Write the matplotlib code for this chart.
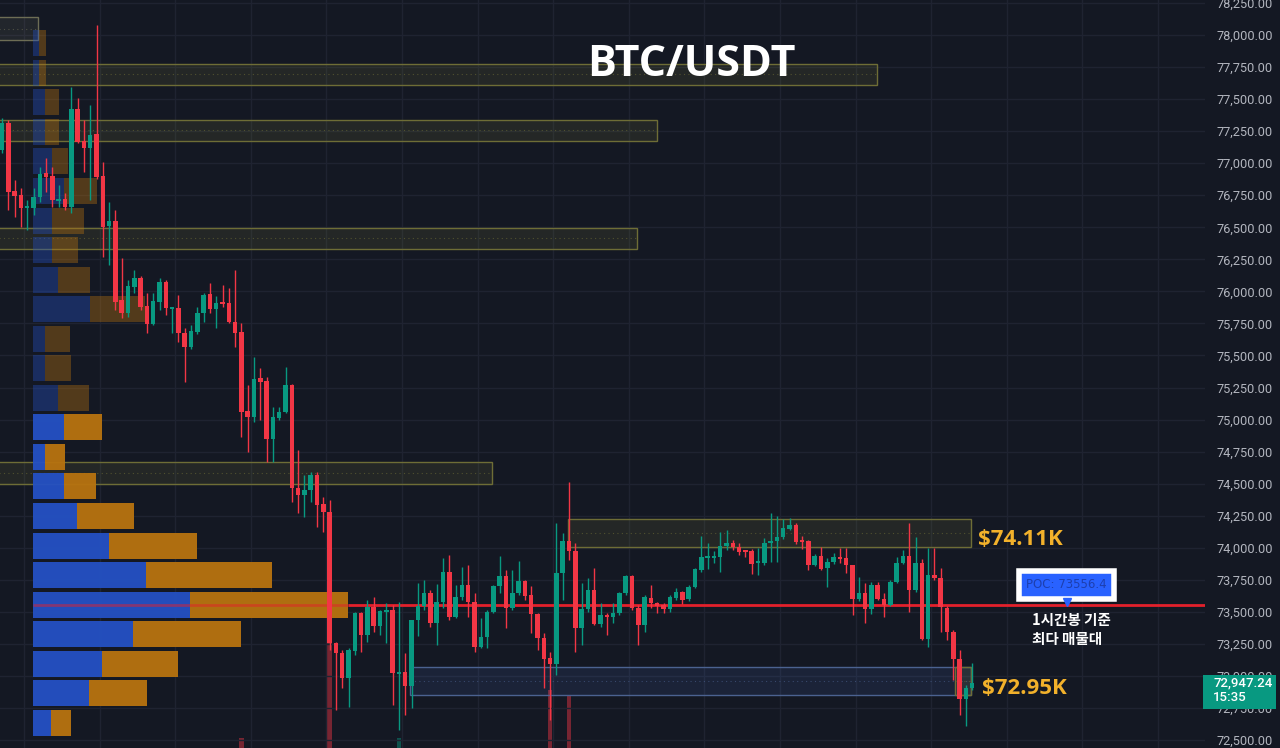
import matplotlib.pyplot as plt
import matplotlib.transforms as mtransforms
from matplotlib.patches import Rectangle

# ---- candle data (1h, BTC/USDT) ----
opens = [77103, 77314, 76783, 76752, 76651, 76651, 76736, 76924, 76900, 76705,
         76721, 76658, 77423, 77173, 77119, 77228, 76900, 76510, 76549, 75933,
         75832, 76034, 76105, 75886, 75746, 75917, 76073, 75863, 75871, 75676,
         75566, 75683, 75832, 75980, 75863, 75909, 75909, 75761, 75683, 75067,
         75020, 75325, 75301, 74849, 75013, 75060, 75270, 74467, 74412, 74451,
         74568, 74342, 74279, 73258, 73180, 72985, 73195, 73492, 73320, 73538,
         73390, 73499, 73515, 73016, 73031, 72922, 73437, 73546, 73648, 73414,
         73577, 73811, 73460, 73616, 73710, 73577, 73226, 73304, 73499, 73702,
         73780, 73531, 73648, 73741, 73632, 73484, 73297, 73141, 73094, 73804,
         74053, 73975, 73375, 73523, 73671, 73406, 73476, 73460, 73492, 73648,
         73780, 73531, 73398, 73609, 73570, 73554, 73523, 73609, 73656, 73601,
         73695, 73827, 73921, 73921, 73928, 74014, 74038, 74006, 73983, 73975,
         73882, 73882, 74038, 74053, 74085, 74147, 74178, 74053, 74053, 73866,
         73936, 73843, 73889, 73928, 73921, 73866, 73601, 73648, 73523, 73710,
         73601, 73554, 73733, 73882, 73936, 73671, 73882, 73289, 73788, 73765,
         73531, 73344, 73133, 72821, 72907]
highs = [77353, 77337, 76869, 76807, 76713, 76807, 76970, 77041, 76970, 76830,
         76768, 77594, 77509, 77337, 77454, 78078, 77009, 76697, 76635, 76261,
         76089, 76167, 76120, 75988, 75988, 76105, 76089, 75878, 75972, 75715,
         75738, 75878, 75988, 76066, 75964, 76050, 76027, 76167, 75754, 75270,
         75488, 75403, 75332, 75098, 75098, 75410, 75280, 74763, 74568, 74591,
         74591, 74396, 74373, 73265, 73203, 73219, 73499, 73499, 73593, 73616,
         73515, 73570, 73554, 73577, 73180, 73437, 73726, 73749, 73671, 73718,
         73921, 73944, 73710, 73850, 73866, 73648, 73453, 73515, 73710, 73936,
         73827, 73827, 73897, 73749, 73702, 73492, 73336, 73188, 74194, 74116,
         74513, 74038, 73726, 73765, 73843, 73570, 73492, 73570, 73656, 73788,
         73788, 73554, 73632, 73710, 73577, 73570, 73632, 73687, 73663, 73710,
         73843, 74092, 74038, 73975, 74123, 74139, 74061, 74038, 73983, 73991,
         73999, 74077, 74272, 74248, 74225, 74233, 74194, 74092, 74061, 73952,
         74006, 73921, 73960, 73999, 73999, 73866, 73773, 73726, 73733, 73733,
         73648, 73749, 73928, 73983, 74194, 74085, 73913, 73999, 73999, 73843,
         73546, 73359, 73203, 72930, 73101]
lows = [77080, 76635, 76580, 76502, 76479, 76596, 76697, 76775, 76658, 76658,
        76635, 76612, 77158, 76931, 76713, 76880, 76269, 76206, 75855, 75793,
        75800, 75988, 75855, 75676, 75738, 75855, 75816, 75676, 75605, 75293,
        75551, 75668, 75761, 75832, 75715, 75878, 75754, 75566, 74864, 74747,
        74981, 74997, 74669, 74669, 74997, 75052, 74357, 74272, 74240, 74357,
        74162, 74123, 73203, 72735, 72907, 72758, 73164, 73188, 73265, 73344,
        73320, 73258, 72774, 72579, 72696, 72751, 73312, 73515, 73382, 73242,
        73531, 73437, 73453, 73593, 73460, 73188, 73219, 73219, 73492, 73648,
        73375, 73515, 73632, 73593, 73336, 73203, 72907, 72657, 73008, 73593,
        73905, 73188, 73242, 73499, 73398, 73382, 73320, 73414, 73476, 73632,
        73515, 73242, 73344, 73531, 73492, 73492, 73499, 73593, 73562, 73585,
        73687, 73811, 73835, 73882, 73811, 73983, 73983, 73944, 73928, 73796,
        73788, 73866, 73889, 73889, 74069, 74139, 74030, 73991, 73827, 73858,
        73827, 73695, 73874, 73882, 73804, 73476, 73585, 73414, 73484, 73593,
        73460, 73546, 73726, 73874, 73499, 73656, 73281, 73226, 73749, 73344,
        73281, 72969, 72696, 72610, 72891]
closes = [77314, 76775, 76744, 76651, 76667, 76736, 76916, 76892, 76713, 76721,
          76658, 77423, 77165, 77119, 77220, 76892, 76502, 76549, 75917, 75832,
          76042, 76105, 75878, 75746, 75925, 76073, 75871, 75878, 75676, 75566,
          75691, 75832, 75972, 75863, 75909, 75902, 75761, 75676, 75060, 75020,
          75317, 75293, 74849, 75020, 75060, 75270, 74467, 74412, 74451, 74568,
          74334, 74279, 73258, 73180, 72985, 73203, 73492, 73320, 73538, 73390,
          73507, 73515, 73024, 73031, 72922, 73437, 73546, 73648, 73414, 73577,
          73811, 73460, 73616, 73710, 73577, 73226, 73304, 73499, 73702, 73780,
          73531, 73648, 73741, 73624, 73484, 73297, 73133, 73094, 73804, 74053,
          73975, 73375, 73523, 73671, 73406, 73476, 73460, 73492, 73648, 73780,
          73531, 73398, 73616, 73570, 73546, 73523, 73616, 73656, 73593, 73695,
          73835, 73928, 73936, 73936, 74014, 74038, 74006, 73967, 73967, 73874,
          73890, 74038, 74053, 74085, 74155, 74178, 74046, 74046, 73866, 73936,
          73835, 73889, 73928, 73913, 73866, 73601, 73648, 73523, 73710, 73601,
          73554, 73733, 73882, 73936, 73671, 73882, 73289, 73788, 73765, 73538,
          73344, 73133, 72821, 72907, 72947]

# bottom volume pane (only the bars that reach into view)
vol_index = [38, 52, 63, 87, 90]
vol_value = [200, 2300, 200, 1160, 1060]

# ---- volume profile (rows from top to bottom) ----
poc_price = 73556.4
row_size = 230.5
poc_row = 19
buy_vol = [6, 6, 12, 12, 19, 31, 19, 19, 25, 57, 12, 12, 25,
           31, 12, 31, 44, 76, 113, 157, 100, 69, 56, 18]
sell_vol = [7, 7, 14, 14, 16, 33, 32, 26, 32, 55, 25, 26, 31,
            38, 20, 32, 57, 88, 126, 158, 108, 76, 58, 20]
value_area_first_row = 13

# ---- zones: (start idx, end idx, top, bottom, kind) ----
zones = [
    (-2, 5.7, 78140, 77961, "grey"),
    (-2, 138.9, 77774, 77610, "olive"),
    (-2, 104.0, 77337, 77173, "olive"),
    (-2, 100.8, 76495, 76331, "olive"),
    (-2, 77.8, 74669, 74498, "olive"),
    (89.8, 153.8, 74225, 74006, "olive"),
    (64.8, 153.8, 73070, 72852, "blue"),
    (151.3, 153.8, 73070, 72852, "olive"),
]
last_price = 72947.24
last_time = "15:35"

bg = "#141823"
grid_c = "#1f2331"
up_c = "#089981"
down_c = "#f23645"

fig = plt.figure(figsize=(12.8, 7.48), dpi=100)
fig.patch.set_facecolor(bg)
ax = fig.add_axes([0, 0, 1205 / 1280, 1])
ax.set_xlim(-0.32, 190.95)
ax.set_ylim(72438, 78273)

# volume pane underneath
ax2 = ax.twinx()
ax2.set_ylim(0, 14960)
vcols = [up_c if closes[i] >= opens[i] else down_c for i in vol_index]
ax2.bar(vol_index, vol_value, width=0.75, color=vcols, alpha=0.45)
ax2.axis("off")
ax.set_zorder(ax2.get_zorder() + 1)
ax.patch.set_visible(False)

# grid
ticks = [72500 + 250 * k for k in range(24)]
for t in ticks:
    ax.axhline(t, color=grid_c, lw=1, zorder=0)
for k in range(16):
    ax.axvline(3.5 + 12 * k, color=grid_c, lw=1, zorder=0)

# zones
for x0, x1, top, bot, kind in zones:
    if kind == "blue":
        fc, ec = (0.30, 0.45, 0.80, 0.13), "#4b6290"
    elif kind == "grey":
        fc, ec = (0.55, 0.55, 0.45, 0.12), "#6d6d55"
    else:
        fc, ec = (0.60, 0.60, 0.25, 0.12), "#6e6d36"
    ax.add_patch(Rectangle((x0, bot), x1 - x0, top - bot, fc=fc, ec=ec, lw=1, zorder=1))
    ax.hlines((top + bot) / 2, x0, x1, colors=ec, lw=0.8, linestyles=(0, (1, 3)), alpha=0.6, zorder=1)

# volume profile
px = 1 / 6.3
x_start = 4.92
for k in range(len(buy_vol)):
    yc = poc_price + (poc_row - k) * row_size
    h = row_size * 0.88
    a = 0.95 if k >= value_area_first_row else 0.38
    bw = buy_vol[k] * px
    sw = sell_vol[k] * px
    ax.barh(yc, bw, height=h, left=x_start, color="#2451c4", alpha=a, zorder=1.5)
    ax.barh(yc, sw, height=h, left=x_start + bw, color="#b8730f", alpha=a, zorder=1.5)

# POC line
poc_end = x_start + (buy_vol[poc_row] + sell_vol[poc_row]) * px
ax.hlines(poc_price, x_start, poc_end, colors="#e3202b", lw=2, alpha=0.5, zorder=2)
ax.hlines(poc_price, poc_end, 190.95, colors="#e3202b", lw=2, zorder=2)

# candles
xs = list(range(len(opens)))
cols = [up_c if c >= o else down_c for o, c in zip(opens, closes)]
ax.vlines(xs, lows, highs, colors=cols, lw=1, zorder=3)
bottoms = [min(o, c) for o, c in zip(opens, closes)]
heights = [max(abs(c - o), 12) for o, c in zip(opens, closes)]
ax.bar(xs, heights, bottom=bottoms, width=0.72, color=cols, zorder=3.5)

# zone labels
ax.text(154.9, 74065, "$74.11K", ha="left", va="center", color="#f2b12b",
        fontsize=16, fontweight="bold", family="Open Sans", zorder=6)
ax.text(155.6, 72905, "$72.95K", ha="left", va="center", color="#f2b12b",
        fontsize=16, fontweight="bold", family="Open Sans", zorder=6)

# POC tag
ax.text(169, 73710, f"POC: {poc_price}", ha="center", va="center", color="#1d3fae",
        fontsize=8.5, zorder=7,
        bbox=dict(boxstyle="square,pad=0.6", fc="#2962ff", ec="white", lw=4))
ax.plot(169, 73575, marker="v", color="#2962ff", ms=6, zorder=7)
ax.text(163.5, 73500, "1시간봉 기준\n최다 매물대", ha="left", va="top", color="white",
        fontsize=10.5, fontweight="bold", linespacing=1.25,
        family=["Noto Sans CJK KR", "DejaVu Sans"], zorder=7)

# price axis
ax.yaxis.tick_right()
ax.set_yticks(ticks)
ax.set_yticklabels([f"{t:,.2f}" for t in ticks])
ax.tick_params(axis="y", length=0, pad=8, labelcolor="#b2b5be", labelsize=9.2)
for lab in ax.get_yticklabels():
    lab.set_family("Roboto")
ax.set_xticks([])
for s in ax.spines.values():
    s.set_visible(False)

# last price tag on the axis
trans = mtransforms.blended_transform_factory(fig.transFigure, ax.transData)
ax.add_patch(Rectangle((1203 / 1280, last_price - 203), 73 / 1280, 265, transform=trans,
                       fc=up_c, ec="none", clip_on=False, zorder=8))
ax.text(1213 / 1280, last_price + 52, f"{last_price:,.2f}\n{last_time}", transform=trans,
        ha="left", va="top", color="white", fontsize=9.5, family="Roboto",
        fontweight="medium", linespacing=1.15, clip_on=False, zorder=9)

# title
fig.text(691 / 1280, 1 - 64 / 748, "BTC/USDT", ha="center", va="center", color="white",
         fontsize=31, fontweight="bold", family="Open Sans")

fig.savefig("out.png", dpi=100, facecolor=bg)
